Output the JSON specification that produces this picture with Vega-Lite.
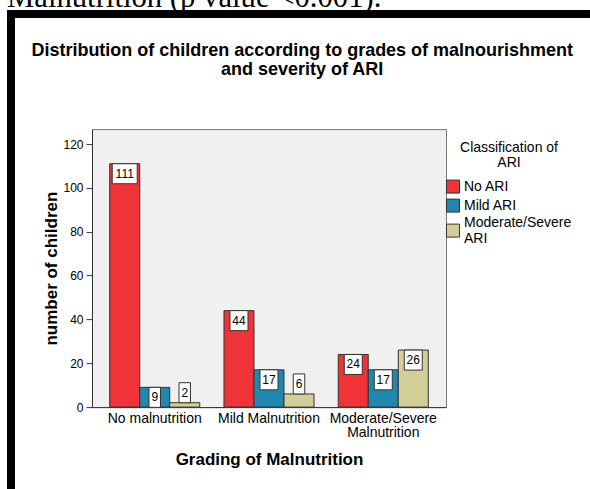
{
  "$schema": "https://vega.github.io/schema/vega-lite/v6.json",
  "background": "white",
  "padding": {"left": 7, "top": -18.9, "right": 0, "bottom": 0},
  "autosize": {"type": "pad"},
  "bounds": "flush",
  "spacing": 0,
  "title": {
    "text": "Malnutrition (p value <0.001).",
    "font": "Liberation Serif",
    "fontSize": 30.7,
    "fontWeight": "normal",
    "color": "black",
    "anchor": "start",
    "baseline": "alphabetic",
    "offset": -27.4
  },
  "resolve": {"scale": {"color": "independent"}, "legend": {"color": "independent"}},
  "config": {
    "font": "Liberation Sans",
    "concat": {"spacing": 0}
  },
  "vconcat": [
    {
      "width": 583, "height": 8,
      "data": {"values": []},
      "mark": "rect",
      "encoding": {},
      "view": {"fill": "black", "stroke": null}
    },
    {
      "bounds": "flush",
      "spacing": 77,
      "resolve": {"scale": {"color": "independent"}, "legend": {"color": "independent"}},
      "hconcat": [
        {
          "width": 8, "height": 471,
          "data": {"values": []},
          "mark": "rect",
          "encoding": {},
          "view": {"fill": "black", "stroke": null}
        },
        {
          "bounds": "flush",
          "spacing": 110,
          "resolve": {"scale": {"color": "independent"}, "legend": {"color": "independent"}},
          "vconcat": [
            {
              "width": 1, "height": 1,
              "data": {"values": []},
              "mark": "rect",
              "encoding": {},
              "view": {"fill": null, "stroke": null}
            },
            {
              "width": 354,
              "height": 278,
              "view": {"fill": "#F0F0F0", "stroke": "#777777", "strokeWidth": 1},
              "title": {
                "text": ["Distribution of children according to grades of malnourishment", "and severity of ARI"],
                "font": "Liberation Sans",
                "fontSize": 18,
                "fontWeight": "bold",
                "color": "black",
                "lineHeight": 19,
                "anchor": "middle",
                "frame": "group",
                "dx": 33.2,
                "offset": 50
              },
              "data": {
                "values": [
                  {"grade": "No malnutrition", "ari": "No ARI", "count": 111},
                  {"grade": "No malnutrition", "ari": "Mild ARI", "count": 9},
                  {"grade": "No malnutrition", "ari": "Moderate/Severe ARI", "count": 2},
                  {"grade": "Mild Malnutrition", "ari": "No ARI", "count": 44},
                  {"grade": "Mild Malnutrition", "ari": "Mild ARI", "count": 17},
                  {"grade": "Mild Malnutrition", "ari": "Moderate/Severe ARI", "count": 6},
                  {"grade": "Moderate/Severe Malnutrition", "ari": "No ARI", "count": 24},
                  {"grade": "Moderate/Severe Malnutrition", "ari": "Mild ARI", "count": 17},
                  {"grade": "Moderate/Severe Malnutrition", "ari": "Moderate/Severe ARI", "count": 26}
                ]
              },
              "encoding": {
                "x": {
                  "field": "grade",
                  "type": "nominal",
                  "sort": ["No malnutrition", "Mild Malnutrition", "Moderate/Severe Malnutrition"],
                  "scale": {"paddingInner": 0.212, "paddingOuter": 0.155},
                  "title": "Grading of Malnutrition",
                  "axis": {
                    "ticks": false,
                    "labelPadding": 4.4,
                    "labelAngle": 0,
                    "labelFont": "Liberation Sans",
                    "labelFontSize": 14,
                    "labelColor": "black",
                    "labelLineHeight": 14,
                    "labelLimit": 0,
                    "labelExpr": "datum.label == 'Moderate/Severe Malnutrition' ? ['Moderate/Severe', 'Malnutrition'] : datum.label",
                    "domainColor": "#333333",
                    "titleFont": "Liberation Sans",
                    "titleFontSize": 17,
                    "titleFontWeight": "bold",
                    "titleColor": "black",
                    "titlePadding": 12.5
                  }
                },
                "xOffset": {
                  "field": "ari",
                  "type": "nominal",
                  "sort": ["No ARI", "Mild ARI", "Moderate/Severe ARI"],
                  "scale": {"paddingInner": 0, "paddingOuter": 0}
                },
                "y": {
                  "field": "count",
                  "type": "quantitative",
                  "scale": {"domain": [0, 126.8], "nice": false},
                  "title": "number of children",
                  "axis": {
                    "values": [0, 20, 40, 60, 80, 100, 120],
                    "grid": false,
                    "tickSize": 6,
                    "tickColor": "#333333",
                    "domainColor": "#333333",
                    "labelPadding": 3,
                    "labelFont": "Liberation Sans",
                    "labelFontSize": 12,
                    "labelColor": "black",
                    "titleFont": "Liberation Sans",
                    "titleFontSize": 17,
                    "titleFontWeight": "bold",
                    "titleColor": "black",
                    "titlePadding": 2
                  }
                }
              },
              "layer": [
                {
                  "mark": {"type": "bar", "stroke": "#333333", "strokeWidth": 1},
                  "encoding": {
                    "color": {
                      "field": "ari",
                      "type": "nominal",
                      "sort": ["No ARI", "Mild ARI", "Moderate/Severe ARI"],
                      "scale": {
                        "domain": ["No ARI", "Mild ARI", "Moderate/Severe ARI"],
                        "range": ["#EF3338", "#2187AF", "#D3CE97"]
                      },
                      "legend": {
                        "title": ["Classification of", "ARI"],
                        "titleFont": "Liberation Sans",
                        "titleFontSize": 14,
                        "titleFontWeight": "normal",
                        "titleColor": "black",
                        "titleAnchor": "middle",
                        "titleAlign": "center",
                        "titleLineHeight": 14.5,
                        "titlePadding": 10,
                        "labelFont": "Liberation Sans",
                        "labelFontSize": 14,
                        "labelColor": "black",
                        "labelOffset": 4,
                        "labelLimit": 300,
                        "labelExpr": "datum.label == 'Moderate/Severe ARI' ? ['Moderate/Severe', 'ARI'] : datum.label",
                        "symbolType": "square",
                        "symbolSize": 169,
                        "symbolStrokeColor": "#333333",
                        "symbolStrokeWidth": 1,
                        "symbolOpacity": 1,
                        "rowPadding": 1,
                        "offset": -12,
                        "padding": 12,
                        "encode": {
                          "labels": {
                            "update": {
                              "dy": {"signal": "datum.value === 'Moderate/Severe ARI' ? -7.5 : 0"}
                            }
                          }
                        }
                      }
                    }
                  }
                },
                {
                  "mark": {"type": "point", "filled": true, "fill": "white", "stroke": "#333333", "strokeWidth": 1, "opacity": 1, "size": 400},
                  "encoding": {
                    "shape": {
                      "condition": [
                        {"test": "datum.count >= 100", "value": "M-1.25,0H1.25V2H-1.25Z"},
                        {"test": "datum.count >= 10", "value": "M-0.9,0H0.9V2H-0.9Z"},
                        {"test": "datum.count >= 9", "value": "M-0.575,0H0.575V2H-0.575Z"}
                      ],
                      "value": "M-0.575,-2H0.575V0H-0.575Z"
                    }
                  }
                },
                {
                  "transform": [{"filter": "datum.count >= 9"}],
                  "mark": {"type": "text", "font": "Liberation Sans", "fontSize": 12, "color": "black", "baseline": "middle", "dy": 10},
                  "encoding": {"text": {"field": "count", "type": "quantitative"}}
                },
                {
                  "transform": [{"filter": "datum.count < 9"}],
                  "mark": {"type": "text", "font": "Liberation Sans", "fontSize": 12, "color": "black", "baseline": "middle", "dy": -10},
                  "encoding": {"text": {"field": "count", "type": "quantitative"}}
                }
              ]
            }
          ]
        }
      ]
    }
  ]
}
